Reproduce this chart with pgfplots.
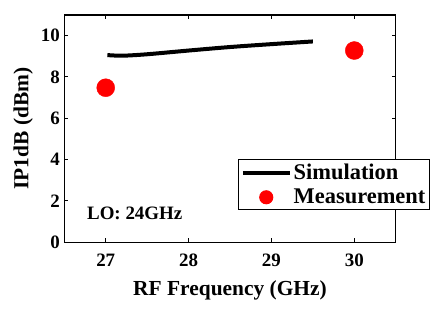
\documentclass[border=0pt]{standalone}
\usepackage{fontspec}
\setmainfont{Liberation Serif}
\usepackage{pgfplots}
\pgfplotsset{compat=1.18}
\begin{document}
\begin{tikzpicture}[x=1bp,y=1bp]
\path (0,0) rectangle (442,311);
\begin{axis}[
  at={(64.3bp,68.7bp)}, anchor=south west,
  scale only axis, width=331.4bp, height=227.3bp,
  xmin=26.5, xmax=30.5, ymin=0, ymax=11,
  xtick={27,28,29,30}, ytick={0,2,4,6,8,10},
  tick align=inside, major tick length=4bp,
  axis line style={line width=1.3bp},
  every tick/.style={line width=1bp, black},
  tick label style={font=\fontsize{19}{22}\selectfont\bfseries},
  xticklabel style={yshift=-8bp},
  yticklabel style={xshift=-1bp},
  /pgf/number format/assume math mode=true,
  xlabel={RF Frequency (GHz)}, ylabel={IP1dB (dBm)},
  label style={font=\fontsize{21.5}{24}\selectfont\bfseries},
  xlabel style={at={(0.5,-0.21)}, anchor=center},
  ylabel style={at={(-0.124,0.5)}, anchor=center},
  legend style={at={(1.103,0.366)}, anchor=north east, draw=black, line width=1.1bp,
    font=\fontsize{22.5}{24}\selectfont\bfseries, inner xsep=2bp, inner ysep=2.5bp, row sep=4bp,
    legend cell align=left, /tikz/every even column/.append style={column sep=2bp}},
  legend image code/.code={\draw[#1] (0bp,0bp) -- (47bp,0bp);},
]
\addplot[black, line width=4bp, smooth] coordinates {
(27.02,9.06) (27.2,9.03) (27.5,9.1) (28,9.28) (28.5,9.45) (29,9.59) (29.5,9.72)
};
\addlegendentry{Simulation}
\addplot[only marks, mark=*, mark size=9bp, red, mark options={fill=red, draw=red},
  legend image code/.code={\fill[red] (23.5bp,0bp) circle (6.5bp);}] coordinates {
(27,7.48) (30,9.28)
};
\addlegendentry{Measurement}
\node[font=\fontsize{19}{22}\selectfont\bfseries] at (axis cs:27.35,1.42) {LO: 24GHz};
\end{axis}
\end{tikzpicture}
\end{document}
